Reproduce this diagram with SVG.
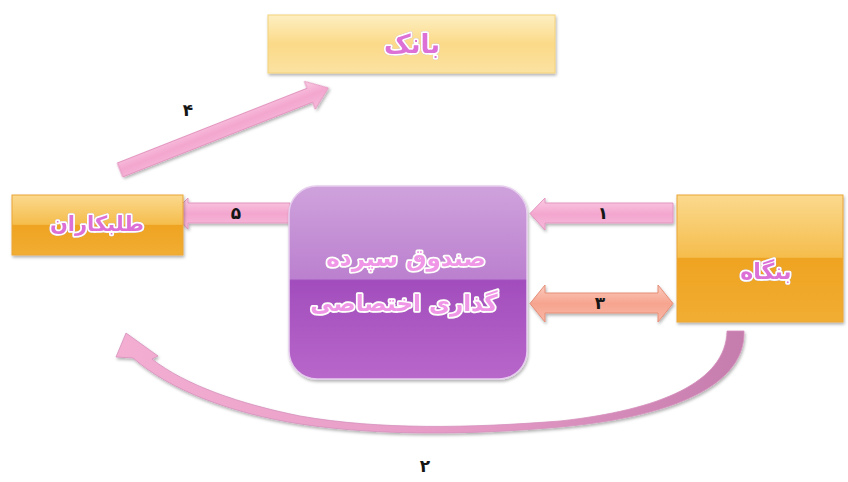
<svg xmlns="http://www.w3.org/2000/svg" width="848" height="482" viewBox="0 0 848 482">
<style>
.lbl{font-family:"DejaVu Sans","Noto Sans",sans-serif;font-weight:bold;fill:#dc70d6;stroke:#ffffff;stroke-width:3.5;paint-order:stroke;stroke-linejoin:round;text-anchor:middle;dominant-baseline:central}
.clbl{fill:#f096e6}
.num{font-family:"DejaVu Sans","Noto Sans",sans-serif;font-weight:bold;font-size:17px;fill:#151515;text-anchor:middle;dominant-baseline:central}
.pink{fill:url(#gPink);stroke:#e296c0;stroke-width:1}
.salmon{fill:url(#gSalmon);stroke:#e58e78;stroke-width:1}
</style>
<defs>
<linearGradient id="gOrange" x1="0" y1="0" x2="0" y2="1">
<stop offset="0" stop-color="#fbd98e"/>
<stop offset="0.49" stop-color="#f5bd4c"/>
<stop offset="0.5" stop-color="#efa322"/>
<stop offset="1" stop-color="#f1ad32"/>
</linearGradient>
<linearGradient id="gBank" x1="0" y1="0" x2="0" y2="1">
<stop offset="0" stop-color="#fdefc2"/>
<stop offset="0.5" stop-color="#fbda88"/>
<stop offset="1" stop-color="#fbe2a2"/>
</linearGradient>
<linearGradient id="gPurple" x1="0" y1="0" x2="0" y2="1">
<stop offset="0" stop-color="#cfa2dc"/>
<stop offset="0.48" stop-color="#bb80cf"/>
<stop offset="0.49" stop-color="#a24dbd"/>
<stop offset="1" stop-color="#b867ca"/>
</linearGradient>
<linearGradient id="gPink" x1="0" y1="0" x2="0" y2="1">
<stop offset="0" stop-color="#fbcde4"/>
<stop offset="0.5" stop-color="#f3a6cf"/>
<stop offset="1" stop-color="#f7badb"/>
</linearGradient>
<linearGradient id="gSalmon" x1="0" y1="0" x2="0" y2="1">
<stop offset="0" stop-color="#fcccbf"/>
<stop offset="0.5" stop-color="#f6a48f"/>
<stop offset="1" stop-color="#f9b8a6"/>
</linearGradient>
<linearGradient id="gCurve" x1="0" y1="0" x2="1" y2="0">
<stop offset="0" stop-color="#f4aed2"/>
<stop offset="0.6" stop-color="#e398c4"/>
<stop offset="1" stop-color="#c57dae"/>
</linearGradient>
<filter id="shadow" x="-10%" y="-10%" width="130%" height="140%">
<feDropShadow dx="1" dy="2" stdDeviation="1.5" flood-color="#000" flood-opacity="0.3"/>
</filter>
<filter id="txt" x="-10%" y="-20%" width="120%" height="140%">
<feDropShadow dx="0" dy="0" stdDeviation="0.7" flood-color="#7a2a7a" flood-opacity="0.9"/>
</filter>
</defs>

<g id="connectors">
<path id="arrow-1" class="pink" filter="url(#shadow)" d="M673 203 L545 203 L545 198 L530 213.5 L545 230 L545 223 L673 223 Z"/>
<path id="arrow-5" class="pink" filter="url(#shadow)" d="M290 203 L188 203 L188 198 L173 213 L188 229 L188 223 L290 223 Z"/>
<path id="arrow-3" class="salmon" filter="url(#shadow)" d="M545 293 L545 285 L530 303.5 L545 322 L545 313 L658 313 L658 322 L673 303.5 L658 285 L658 293 Z"/>
<path id="arrow-4" class="pink" filter="url(#shadow)" transform="translate(120 170) rotate(-21.5)" d="M0 -7.5 L204 -7.5 L204 -15 L224 0 L204 15 L204 7.5 L0 7.5 Z"/>
<path id="arrow-2" fill="url(#gCurve)" stroke="#d690bc" stroke-width="0.8" filter="url(#shadow)" d="M744 331 C746 390 660 418 560 427 C470 435 380 436 300 424 C230 413 170 390 133 358 L116 357 L126 333 L158 356 L152 359 C185 385 240 404 300 416 C380 430 470 428 560 421 C660 410 726 382 727 331 Z"/>
<text class="num" x="603" y="213">۱</text>
<text class="num" x="425" y="466">۲</text>
<text class="num" x="600" y="303">۳</text>
<text class="num" x="188" y="110">۴</text>
<text class="num" x="236" y="213">۵</text>
</g>

<g id="node-bank">
<rect x="268" y="15" width="287" height="58" fill="url(#gBank)" stroke="#f4d27a" stroke-width="1" filter="url(#shadow)"/>
<text class="lbl" x="412" y="44" font-size="26" filter="url(#txt)">بانک</text>
</g>

<g id="node-creditors">
<rect x="12" y="195" width="171" height="60" fill="url(#gOrange)" stroke="#eaa636" stroke-width="1" filter="url(#shadow)"/>
<text class="lbl" x="97" y="224" font-size="21" filter="url(#txt)">طلبکاران</text>
</g>

<g id="node-fund">
<rect x="289" y="186" width="238" height="193" rx="28" ry="28" fill="url(#gPurple)" stroke="#e6cdee" stroke-width="1.5" filter="url(#shadow)"/>
<text class="lbl clbl" x="406" y="258" font-size="23" filter="url(#txt)">صندوق سپرده</text>
<text class="lbl clbl" x="404" y="303" font-size="23" filter="url(#txt)">گذاری اختصاصی</text>
</g>

<g id="node-firm">
<rect x="677" y="195" width="166" height="127" fill="url(#gOrange)" stroke="#eaa636" stroke-width="1" filter="url(#shadow)"/>
<text class="lbl" x="766" y="271" font-size="22" filter="url(#txt)">بنگاه</text>
</g>
</svg>
